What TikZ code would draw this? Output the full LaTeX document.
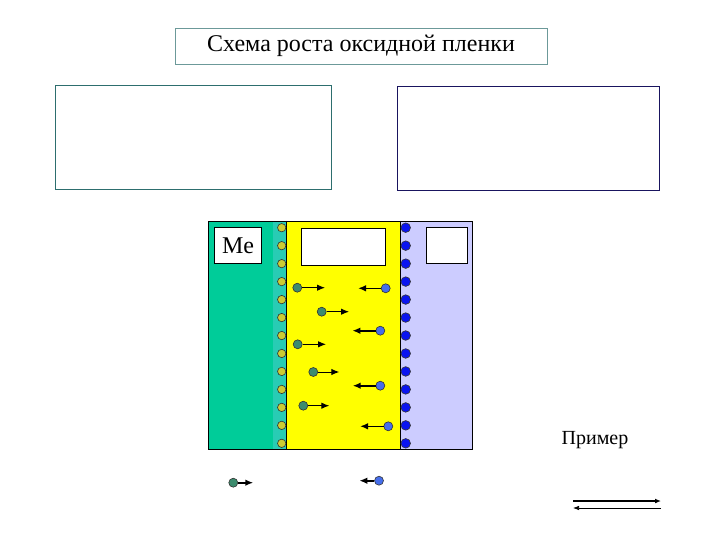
\documentclass[tikz,border=0pt]{standalone}
\usepackage{fontspec}
\setmainfont{Liberation Serif}
\usetikzlibrary{arrows.meta,positioning}
\definecolor{mgreen}{RGB}{0,204,153}
\definecolor{mcyan}{RGB}{40,204,180}
\definecolor{oxyellow}{RGB}{255,255,0}
\definecolor{gaslilac}{RGB}{204,204,255}
\definecolor{ionolive}{RGB}{204,204,51}
\definecolor{ionblue}{RGB}{10,20,240}
\definecolor{movgreen}{RGB}{60,140,110}
\definecolor{movblue}{RGB}{70,110,235}
\definecolor{boxteal}{RGB}{45,110,110}
\definecolor{boxnavy}{RGB}{25,20,95}

\begin{document}
\begin{tikzpicture}[x=1pt,y=-1pt,>={Latex[length=8pt,width=6.5pt]},
    every node/.style={align=center,inner sep=0pt},
    frame/.style={draw,fill=white,line width=0.8pt},
    oion/.style={circle,draw=black!80,fill=ionolive,minimum size=8.4pt,line width=0.6pt},
    bion/.style={circle,draw=black!80,fill=ionblue,minimum size=9.6pt,line width=0.6pt},
    gmove/.style={circle,draw=black!80,fill=movgreen,minimum size=9pt,line width=0.6pt},
    bmove/.style={circle,draw=black!80,fill=movblue,minimum size=9pt,line width=0.6pt},
    flow/.style={->,line width=1.6pt}]
  \useasboundingbox (0,0) rectangle (720,540);
  % header and the two empty frames
  \node[frame,draw=boxteal!70,minimum width=372pt,minimum height=36pt,font=\fontsize{24}{28}\selectfont] (title) at (361,46) {Схема роста оксидной пленки};
  \node[frame,draw=boxteal,minimum width=276pt,minimum height=104pt] (leftbox) at (193,137) {};
  \node[frame,draw=boxnavy,minimum width=262pt,minimum height=104pt] (rightbox) at (528,138) {};
  % layers: metal, oxide, gas
  \fill[mgreen] (208,221) rectangle (286,449);
  \fill[mcyan] (273,221) rectangle (286,449);
  \fill[oxyellow] (286,221) rectangle (400,449);
  \fill[gaslilac] (400,221) rectangle (472,449);
  \draw[line width=0.8pt] (286,221) -- (286,449) (400,221) -- (400,449);
  \draw[line width=0.8pt] (208,221) rectangle (472,449);
  \node[frame,minimum width=47pt,minimum height=36pt,font=\fontsize{24}{28}\selectfont] (me) at (238,245.5) {Me};
  \node[frame,minimum width=84pt,minimum height=37pt] (oxlabel) at (343.3,247) {};
  \node[frame,minimum width=41pt,minimum height=36pt] (gaslabel) at (447,245.3) {};
  % boundary ions
  \foreach \i in {0,...,12} {
    \node[oion] (o\i) at (281.7,227.7+17.97*\i) {};
    \node[bion] (b\i) at (405.7,227.7+17.97*\i) {};
  }
  % moving ions
  \foreach \n/\x/\y/\e in {1/297.3/287.7/325, 2/321.7/311.7/349, 3/297.7/344.3/326, 4/313.3/372/339.3, 5/303.3/405.7/329.3} {
    \node[gmove] (g\n) at (\x,\y) {};
    \coordinate (ge\n) at (\e,\y);
    \draw[->,line width=1pt] (g\n) -- (ge\n);
  }
  \foreach \n/\x/\y/\e in {1/385.7/288.3/358, 2/380.3/330.7/352.3, 3/380.3/385.7/352.7, 4/388.3/426.3/360} {
    \node[bmove] (m\n) at (\x,\y) {};
    \coordinate (me\n) at (\e,\y);
    \draw[flow] (m\n) -- (me\n);
  }
  % below the scheme
  \node[gmove] (gdown) at (233.3,482.7) {};
  \coordinate (gdownend) at (253.3,482.7);
  \draw[flow] (gdown) -- (gdownend);
  \node[bmove] (bdown) at (379,480.7) {};
  \coordinate (bdownend) at (359.3,480.7);
  \draw[flow] (bdown) -- (bdownend);
  % example
  \node[font=\fontsize{20}{24}\selectfont] (example) at (595,440) {Пример};
  \coordinate (fwdA) at (573,501);
  \coordinate (fwdB) at (661,501);
  \coordinate (backA) at (661,508);
  \coordinate (backB) at (573,508);
  \draw[flow,>={Latex[length=6pt,width=5pt]}] (fwdA) -- (fwdB);
  \draw[->,line width=0.7pt,>={Latex[length=6pt,width=4.5pt]}] (backA) -- (backB);
\end{tikzpicture}
\end{document}
